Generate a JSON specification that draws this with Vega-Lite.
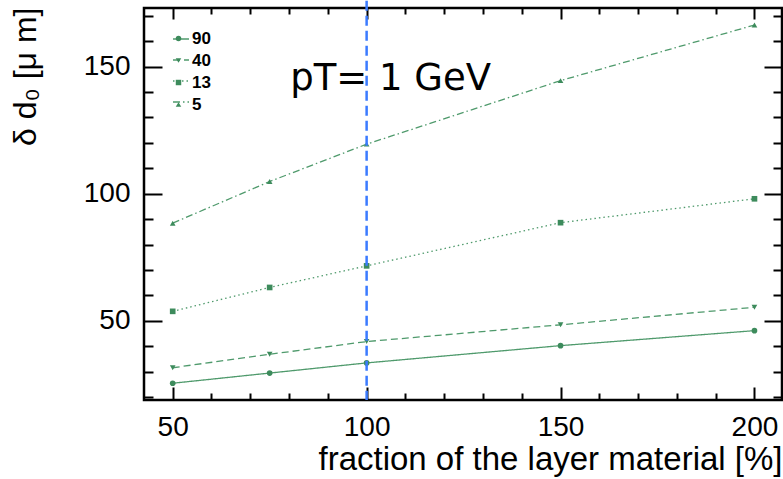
{
  "$schema": "https://vega.github.io/schema/vega-lite/v6.json",
  "width": 638,
  "height": 392,
  "autosize": {"type": "none"},
  "padding": {"left": 144, "top": 8, "right": 1, "bottom": 79},
  "background": "white",
  "config": {
    "view": {"stroke": "black", "strokeWidth": 2.5},
    "axis": {"labelFont": "Liberation Sans", "titleFont": "Liberation Sans", "labelColor": "black", "titleColor": "black", "tickColor": "black", "tickWidth": 2, "ticks": true, "tickOpacity": 1, "domain": false, "grid": false, "labelFlush": false, "labelOverlap": false}
  },
  "datasets": {
    "curves": [
      {"material": 50, "d0": 25.4, "pT": "90"},
      {"material": 75, "d0": 29.4, "pT": "90"},
      {"material": 100, "d0": 33.4, "pT": "90"},
      {"material": 150, "d0": 40.2, "pT": "90"},
      {"material": 200, "d0": 46.1, "pT": "90"},
      {"material": 50, "d0": 31.5, "pT": "40"},
      {"material": 75, "d0": 36.8, "pT": "40"},
      {"material": 100, "d0": 41.8, "pT": "40"},
      {"material": 150, "d0": 48.4, "pT": "40"},
      {"material": 200, "d0": 55.3, "pT": "40"},
      {"material": 50, "d0": 53.7, "pT": "13"},
      {"material": 75, "d0": 63.1, "pT": "13"},
      {"material": 100, "d0": 71.6, "pT": "13"},
      {"material": 150, "d0": 88.6, "pT": "13"},
      {"material": 200, "d0": 98.0, "pT": "13"},
      {"material": 50, "d0": 88.4, "pT": "5"},
      {"material": 75, "d0": 104.8, "pT": "5"},
      {"material": 100, "d0": 119.5, "pT": "5"},
      {"material": 150, "d0": 144.5, "pT": "5"},
      {"material": 200, "d0": 166.4, "pT": "5"}
    ]
  },
  "layer": [
    {
      "data": {"name": "curves"},
      "mark": {"type": "line", "strokeWidth": 1.3, "color": "#4f9a6c"},
      "encoding": {
        "x": {
          "field": "material", "type": "quantitative",
          "scale": {"domain": [42.6, 207.1], "nice": false, "zero": false},
          "axis": {
            "orient": "bottom",
            "values": [50, 100, 150, 200],
            "tickSize": -13,
            "labelFontSize": 28,
            "labelPadding": 48,
            "labelBaseline": "alphabetic",
            "title": "fraction of the layer material [%]",
            "titleFontSize": 33,
            "titleFontWeight": "normal",
            "titleAlign": "right",
            "titleBaseline": "alphabetic",
            "titleX": 638,
            "titleY": 69
          }
        },
        "y": {
          "field": "d0", "type": "quantitative",
          "scale": {"domain": [18.8, 173.1], "nice": false, "zero": false},
          "axis": {
            "orient": "left",
            "values": [50, 100, 150],
            "tickSize": -18,
            "labelFontSize": 28,
            "labelPadding": 32,
            "labelBaseline": "middle",
            "title": "δ d₀ [μ m]",
            "titleFontSize": 32,
            "titleFontWeight": "normal",
            "titleAngle": 270,
            "titleAlign": "right",
            "titleBaseline": "alphabetic",
            "titleX": -109,
            "titleY": -1
          }
        },
        "strokeDash": {
          "field": "pT", "type": "nominal",
          "scale": {"domain": ["5", "13", "40", "90"], "range": [[7, 3, 1.5, 3], [1.5, 3], [7, 4], [1, 0]]},
          "legend": {
            "values": ["90", "40", "13", "5"],
            "orient": "none", "legendX": 28, "legendY": 22, "title": null, "padding": 0,
            "symbolType": "stroke", "symbolSize": 256, "symbolStrokeColor": "#4f9a6c", "symbolStrokeWidth": 1.3,
            "labelExpr": "' '",
            "labelFontSize": 17, "labelFontWeight": "bold", "labelFont": "Liberation Sans",
            "labelOffset": 2, "rowPadding": 4
          }
        }
      }
    },
    {
      "data": {"name": "curves"},
      "mark": {"type": "point", "filled": true, "size": 32, "opacity": 1, "color": "#3d8b5c"},
      "encoding": {
        "x": {
          "field": "material", "type": "quantitative",
          "axis": {"orient": "top", "values": [50, 100, 150, 200], "tickSize": -11, "labels": false, "title": null}
        },
        "y": {
          "field": "d0", "type": "quantitative",
          "axis": {"orient": "right", "values": [50, 100, 150], "tickSize": -18, "labels": false, "title": null}
        },
        "shape": {
          "field": "pT", "type": "nominal",
          "scale": {"domain": ["90", "40", "13", "5"], "range": ["circle", "triangle-down", "square", "triangle-up"]},
          "legend": {
            "orient": "none", "legendX": 26, "legendY": 22, "title": null, "padding": 0,
            "symbolSize": 30, "symbolFillColor": "#3d8b5c", "symbolStrokeColor": "#3d8b5c", "symbolStrokeWidth": 0,
            "labelFontSize": 17, "labelFontWeight": "bold", "labelFont": "Liberation Sans", "labelColor": "black",
            "labelOffset": 5, "rowPadding": 4
          }
        }
      }
    },
    {
      "data": {"values": [{"material": 100}]},
      "mark": {"type": "rule", "color": "#3b7bff", "strokeWidth": 2.5, "strokeDash": [10, 5], "clip": false},
      "encoding": {
        "x": {
          "field": "material", "type": "quantitative",
          "axis": {"orient": "bottom", "values": [60, 70, 80, 90, 110, 120, 130, 140, 160, 170, 180, 190], "tickSize": -7, "labels": false, "title": null}
        },
        "y": {
          "datum": 176, "type": "quantitative",
          "axis": {"orient": "left", "values": [20, 30, 40, 60, 70, 80, 90, 110, 120, 130, 140, 160, 170], "tickSize": -9, "labels": false, "title": null}
        },
        "y2": {"datum": 18.8}
      }
    },
    {
      "data": {"values": [{"label": "pT= 1 GeV"}]},
      "mark": {"type": "text", "font": "DejaVu Sans", "fontSize": 37, "align": "left", "baseline": "alphabetic", "color": "black"},
      "encoding": {
        "x": {
          "datum": 80.3, "type": "quantitative",
          "axis": {"orient": "top", "values": [60, 70, 80, 90, 110, 120, 130, 140, 160, 170, 180, 190], "tickSize": -6, "labels": false, "title": null}
        },
        "y": {
          "datum": 140.8, "type": "quantitative",
          "axis": {"orient": "right", "values": [20, 30, 40, 60, 70, 80, 90, 110, 120, 130, 140, 160, 170], "tickSize": -9, "labels": false, "title": null}
        },
        "text": {"field": "label", "type": "nominal"}
      }
    }
  ],
  "resolve": {"axis": {"x": "independent", "y": "independent"}}
}
